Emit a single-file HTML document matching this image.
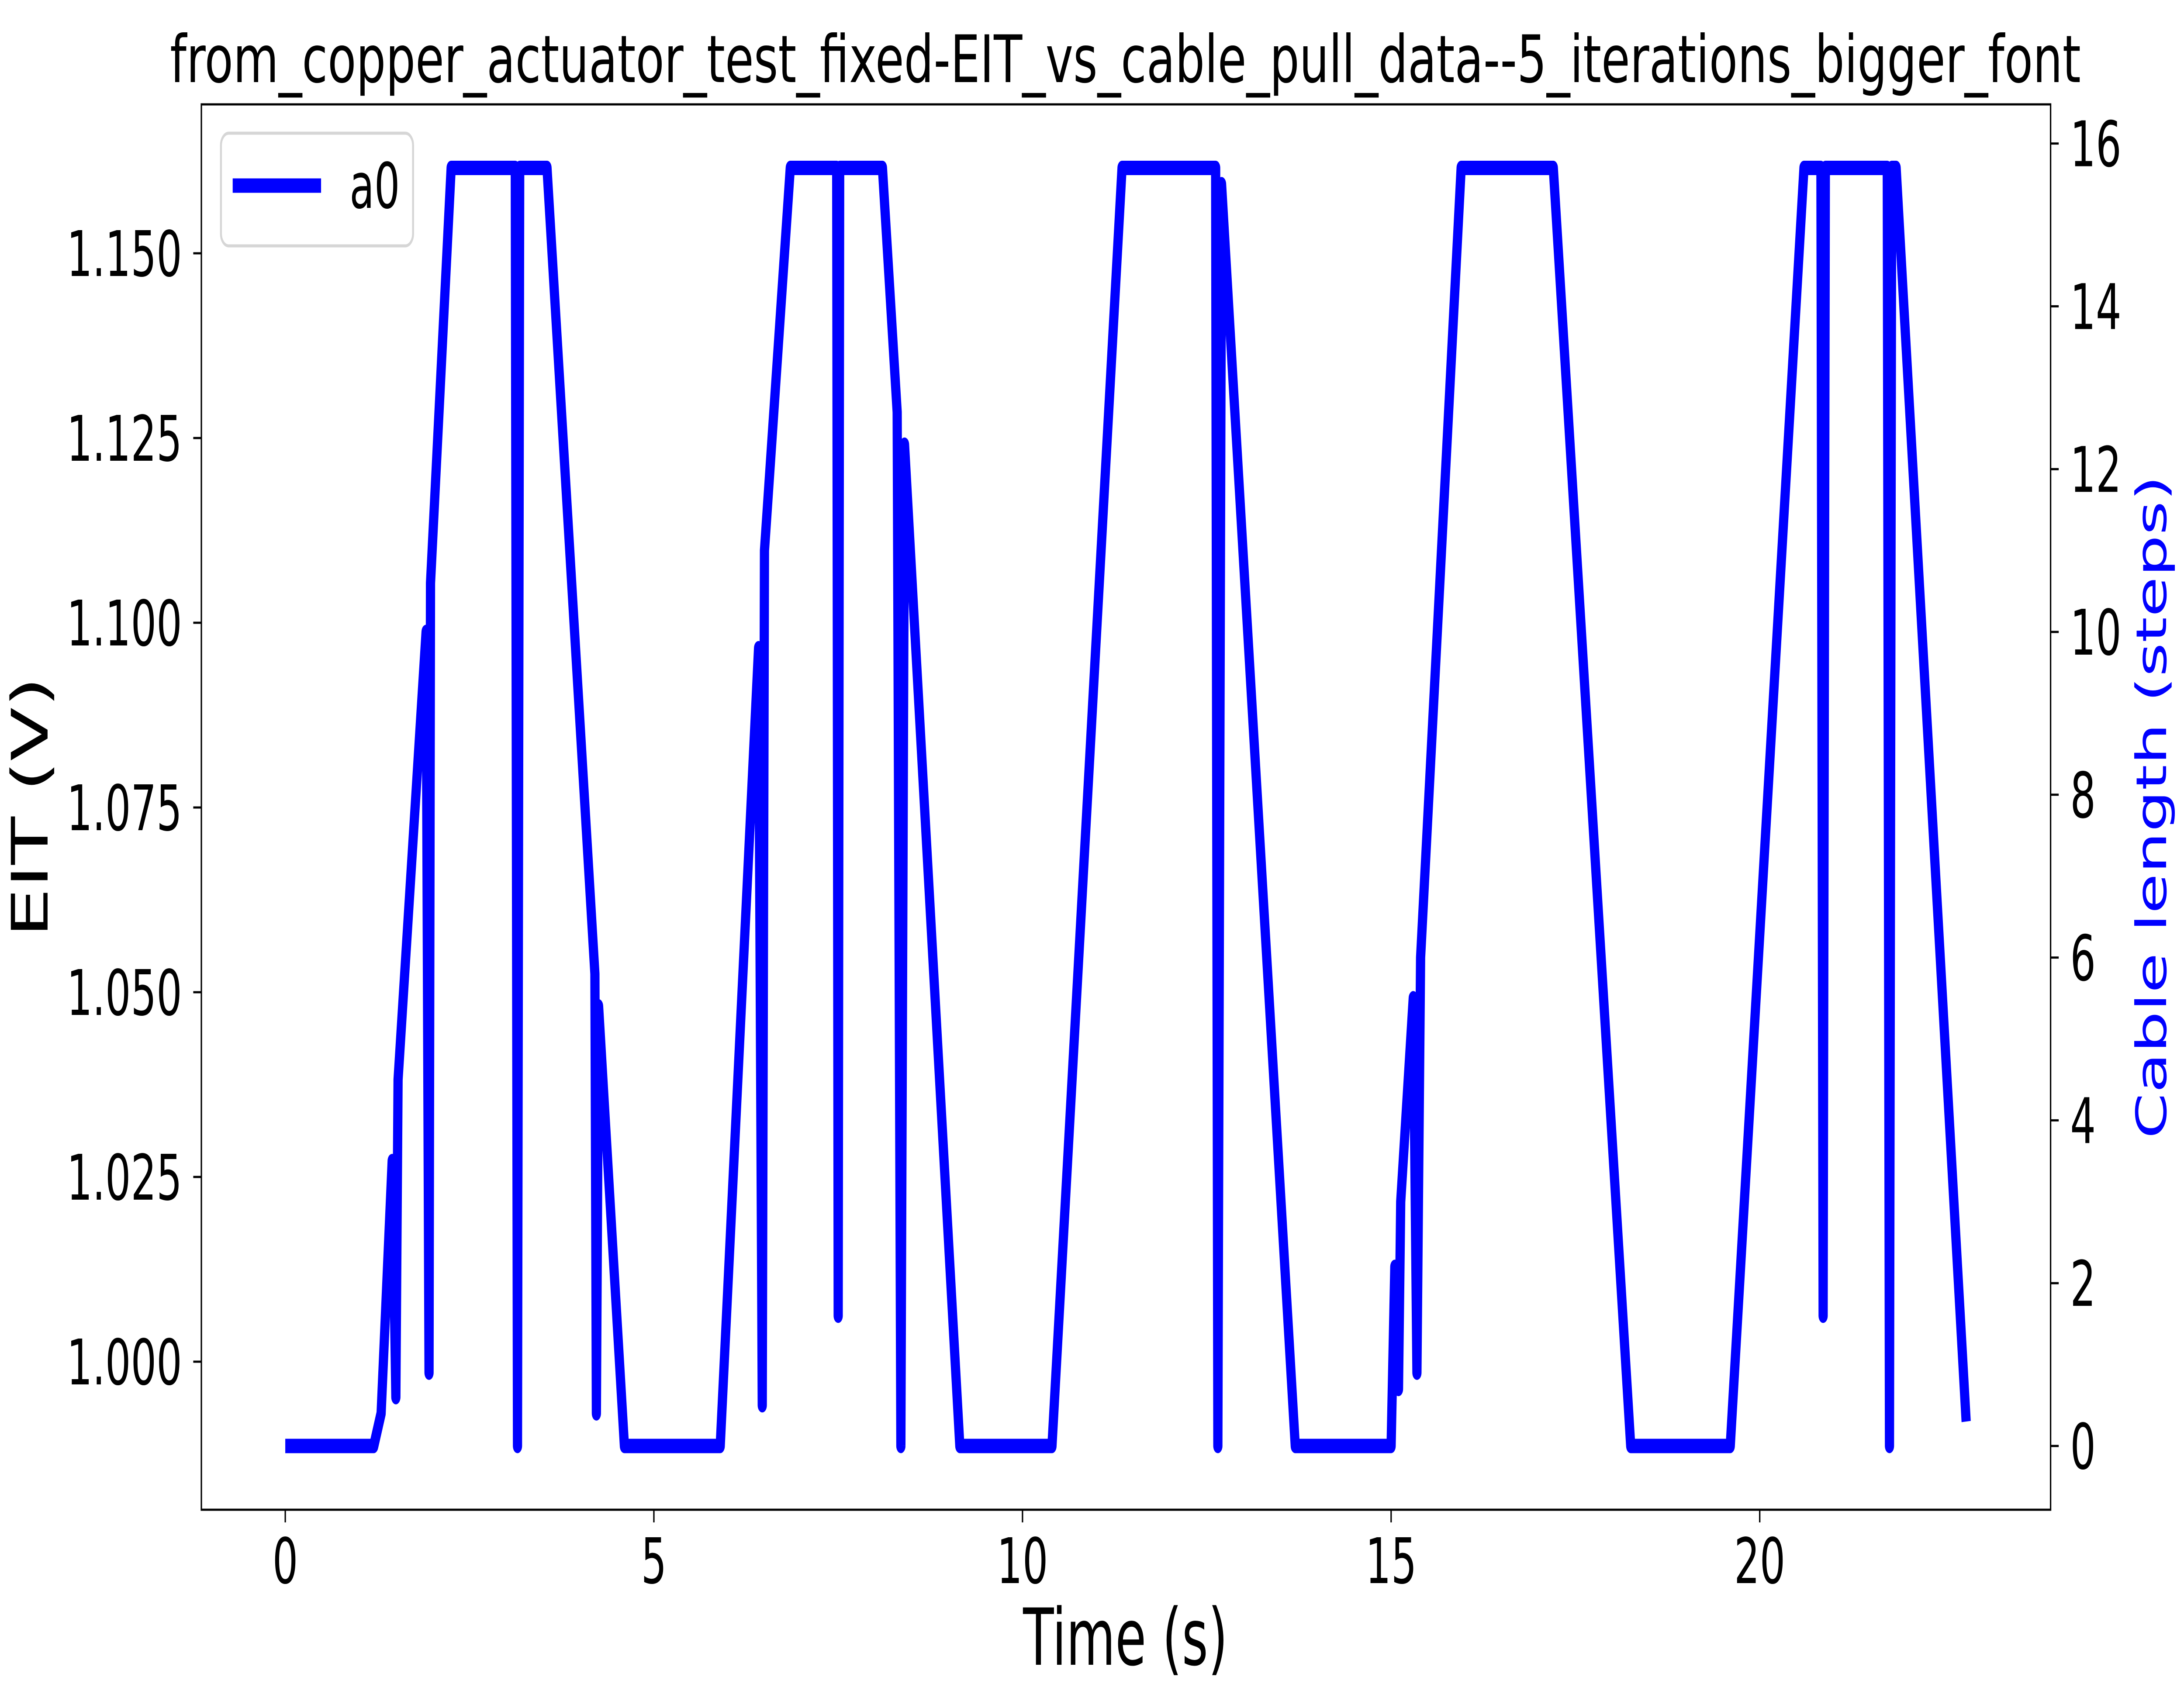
<!DOCTYPE html>
<html><head><meta charset="utf-8"><style>
html,body{margin:0;padding:0;background:#fff;overflow:hidden;}
svg{display:block;width:100vw;height:100vh;font-family:"DejaVu Sans","Liberation Sans",sans-serif;}
</style></head><body>
<svg id="chart" viewBox="0 0 7809 3911" preserveAspectRatio="none" xmlns="http://www.w3.org/2000/svg">
<rect x="0" y="0" width="7809" height="3911" fill="#fff"/>
<text x="4024" y="188" font-size="150" text-anchor="middle" textLength="6832" lengthAdjust="spacingAndGlyphs">from_copper_actuator_test_fixed-EIT_vs_cable_pull_data--5_iterations_bigger_font</text>
<g id="plot"></g>
<g id="xticks"></g>
<g id="yticks"></g>
<g id="y2ticks"></g>
<rect x="720" y="239" width="6612" height="3218" fill="none" stroke="#000" stroke-width="5"/>
<text x="4024" y="3812" font-size="180" text-anchor="middle">Time (s)</text>
<text x="0" y="0" font-size="180" text-anchor="middle" transform="translate(170,1848) rotate(-90)">EIT (V)</text>
<text x="0" y="0" font-size="150" text-anchor="middle" fill="#0000ff" transform="translate(7745,1848) rotate(-90)">Cable length (steps)</text>
<g>
<rect x="790" y="305" width="687" height="258" rx="28" fill="#fff" fill-opacity="0.8" stroke="#d6d6d6" stroke-width="7"/>
<line x1="832" y1="425" x2="1148" y2="425" stroke="#0000ff" stroke-width="33"/>
<text x="1250" y="476" font-size="144">a0</text>
</g>
</svg>
<script>
const times = [0,1.2,1.3,1.45,1.5,1.53,1.91,1.95,1.97,2.25,3.12,3.15,3.18,3.55,4.2,4.22,4.25,4.6,5.9,6.42,6.47,6.5,6.85,7.48,7.5,7.52,8.1,8.3,8.35,8.4,9.15,10.4,11.35,12.62,12.65,12.7,13.7,15.0,15.05,15.1,15.13,15.3,15.35,15.4,15.95,17.2,18.25,19.6,20.6,20.83,20.86,20.89,21.73,21.76,21.79,21.85,22.8];
const steps = [0,0,0.4,3.5,0.6,4.5,10.0,0.9,10.6,15.7,15.7,0,15.7,15.7,5.8,0.4,5.4,0,0,9.8,0.5,11.0,15.7,15.7,1.6,15.7,15.7,12.7,0,12.3,0,0,15.7,15.7,0,15.5,0,0,2.2,0.7,3.0,5.5,0.9,6.0,15.7,15.7,0,0,15.7,15.7,1.6,15.7,15.7,0,15.7,15.7,0.3];
const xTickValues = [0,5,10,15,20];
const yTickLabels = ["1.000","1.025","1.050","1.075","1.100","1.125","1.150"];
const y2TickValues = [0,2,4,6,8,10,12,14,16];

const NS = "http://www.w3.org/2000/svg";
function xScale(t){return 1020 + 263.6*t;}
function y2Scale(s){return 3311 - 186.4*s;}
function yScale(v){return 3118 - (v-1)/0.025*423;}
function mk(tag, attrs, parent){const e=document.createElementNS(NS,tag);for(const k in attrs)e.setAttribute(k,attrs[k]);parent.appendChild(e);return e;}

const plot=document.getElementById('plot');
let d='';
for(let i=0;i<times.length;i++){d+=(i?'L':'M')+xScale(times[i]).toFixed(1)+','+y2Scale(steps[i]).toFixed(1);}
const path=mk('path',{d:d,fill:'none',stroke:'#0000ff','stroke-width':33,'stroke-linejoin':'round'},plot);



const xg=document.getElementById('xticks');
xTickValues.forEach(v=>{
  const x=xScale(v);
  const l=mk('line',{x1:x,y1:3457,x2:x,y2:3486,stroke:'#000','stroke-width':5},xg);
  
  
  const t=mk('text',{x:x,y:3625,'font-size':144,'text-anchor':'middle'},xg);
  
  
  t.textContent=String(v);
});
const yg=document.getElementById('yticks');
yTickLabels.forEach(lbl=>{
  const y=yScale(parseFloat(lbl));
  const l=mk('line',{x1:691,y1:y,x2:720,y2:y,stroke:'#000','stroke-width':5},yg);
  
  
  const t=mk('text',{x:651,y:y+52,'font-size':144,'text-anchor':'end'},yg);
  
  
  t.textContent=lbl;
});
const y2g=document.getElementById('y2ticks');
y2TickValues.forEach(v=>{
  const y=y2Scale(v);
  const l=mk('line',{x1:7332,y1:y,x2:7361,y2:y,stroke:'#000','stroke-width':5},y2g);
  
  
  const t=mk('text',{x:7402,y:y+52,'font-size':144},y2g);
  
  
  t.textContent=String(v);
});
</script>
</body></html>
